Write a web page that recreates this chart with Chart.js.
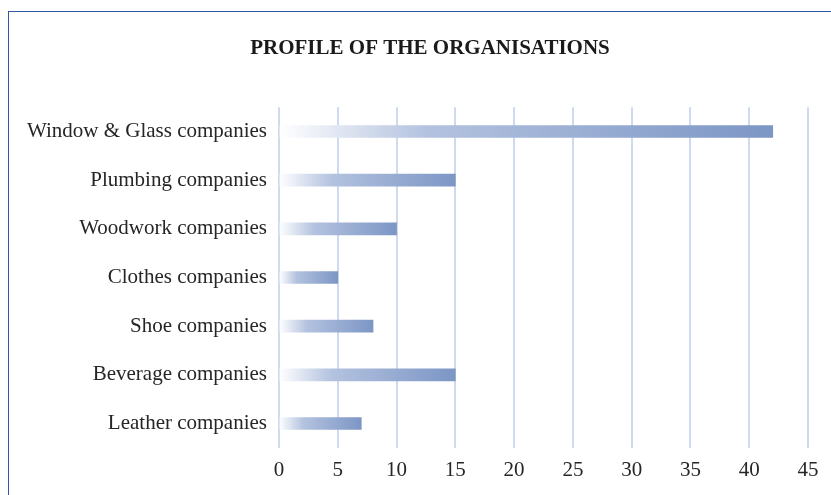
<!DOCTYPE html>
<html>
<head>
  <script src="https://cdn.jsdelivr.net/npm/chart.js"></script>
  <style>
    body { margin: 0; background: #fff; }
    #wrap { position: relative; width: 831px; height: 495px; overflow: hidden; }
    #frame { position: absolute; left: 8px; top: 11px; width: 900px; height: 600px;
             border-left: 1.5px solid #2f56a5; border-top: 1.5px solid #2f56a5; }
  </style>
</head>
<body>
  <div id="wrap">
    <div id="frame"></div>
    <canvas id="orgChart"></canvas>
  </div>

  <script>
    // categories and counts
    const categories = [
        'Window & Glass companies',
        'Plumbing companies',
        'Woodwork companies',
        'Clothes companies',
        'Shoe companies',
        'Beverage companies',
        'Leather companies'
    ];
    const counts = [42, 15, 10, 5, 8, 15, 7];
    const xTicks = [0, 5, 10, 15, 20, 25, 30, 35, 40, 45];

    const serif = "'Liberation Serif', 'Times New Roman', serif";

    // gradient from white at zero to blue at the end of each bar
    function barFill(context) {
        const chart = context.chart;
        if (!chart.chartArea || context.raw === undefined) return '#7d97c6';
        const xs = chart.scales.x;
        const x0 = xs.getPixelForValue(0);
        const x1 = xs.getPixelForValue(context.raw);
        const g = chart.ctx.createLinearGradient(x0, 0, x1, 0);
        g.addColorStop(0, 'rgba(255,255,255,1)');
        g.addColorStop(0.3, '#b3c2df');
        g.addColorStop(1, '#7c96c5');
        return g;
    }

    // the long y labels reach into the left padding, so widen their clip area
    const unclipLabels = {
        id: 'unclipLabels',
        afterLayout(chart) { chart.scales.y.left = 0; }
    };

    const ctx = document.getElementById('orgChart').getContext('2d');
    new Chart(ctx, {
        type: 'bar',
        data: {
            labels: categories,
            datasets: [{
                data: counts,
                backgroundColor: barFill,
                borderWidth: 0,
                barThickness: 12
            }]
        },
        plugins: [unclipLabels],
        options: {
            indexAxis: 'y',
            responsive: true,
            maintainAspectRatio: false,
            animation: false,
            layout: { padding: { left: 52, right: 23, top: 36, bottom: 2 } },
            plugins: {
                legend: { display: false },
                tooltip: { enabled: false },
                title: {
                    display: true,
                    text: 'PROFILE OF THE ORGANISATIONS',
                    color: '#1a1a1a',
                    font: { family: serif, size: 21, weight: 'bold' },
                    padding: { top: 0, bottom: 46 }
                }
            },
            scales: {
                x: {
                    min: 0,
                    max: 45,
                    afterBuildTicks: axis => { axis.ticks = xTicks.map(v => ({ value: v })); },
                    border: { display: false },
                    grid: { color: '#d0daee', lineWidth: 2, drawTicks: false },
                    ticks: {
                        color: '#262626',
                        padding: 10,
                        maxRotation: 0,
                        font: { family: serif, size: 21 }
                    }
                },
                y: {
                    afterFit: axis => { axis.width = 227; },
                    border: { display: false },
                    grid: { display: false, drawTicks: false },
                    ticks: {
                        color: '#262626',
                        padding: 12,
                        font: { family: serif, size: 21 }
                    }
                }
            }
        }
    });
  </script>
</body>
</html>
